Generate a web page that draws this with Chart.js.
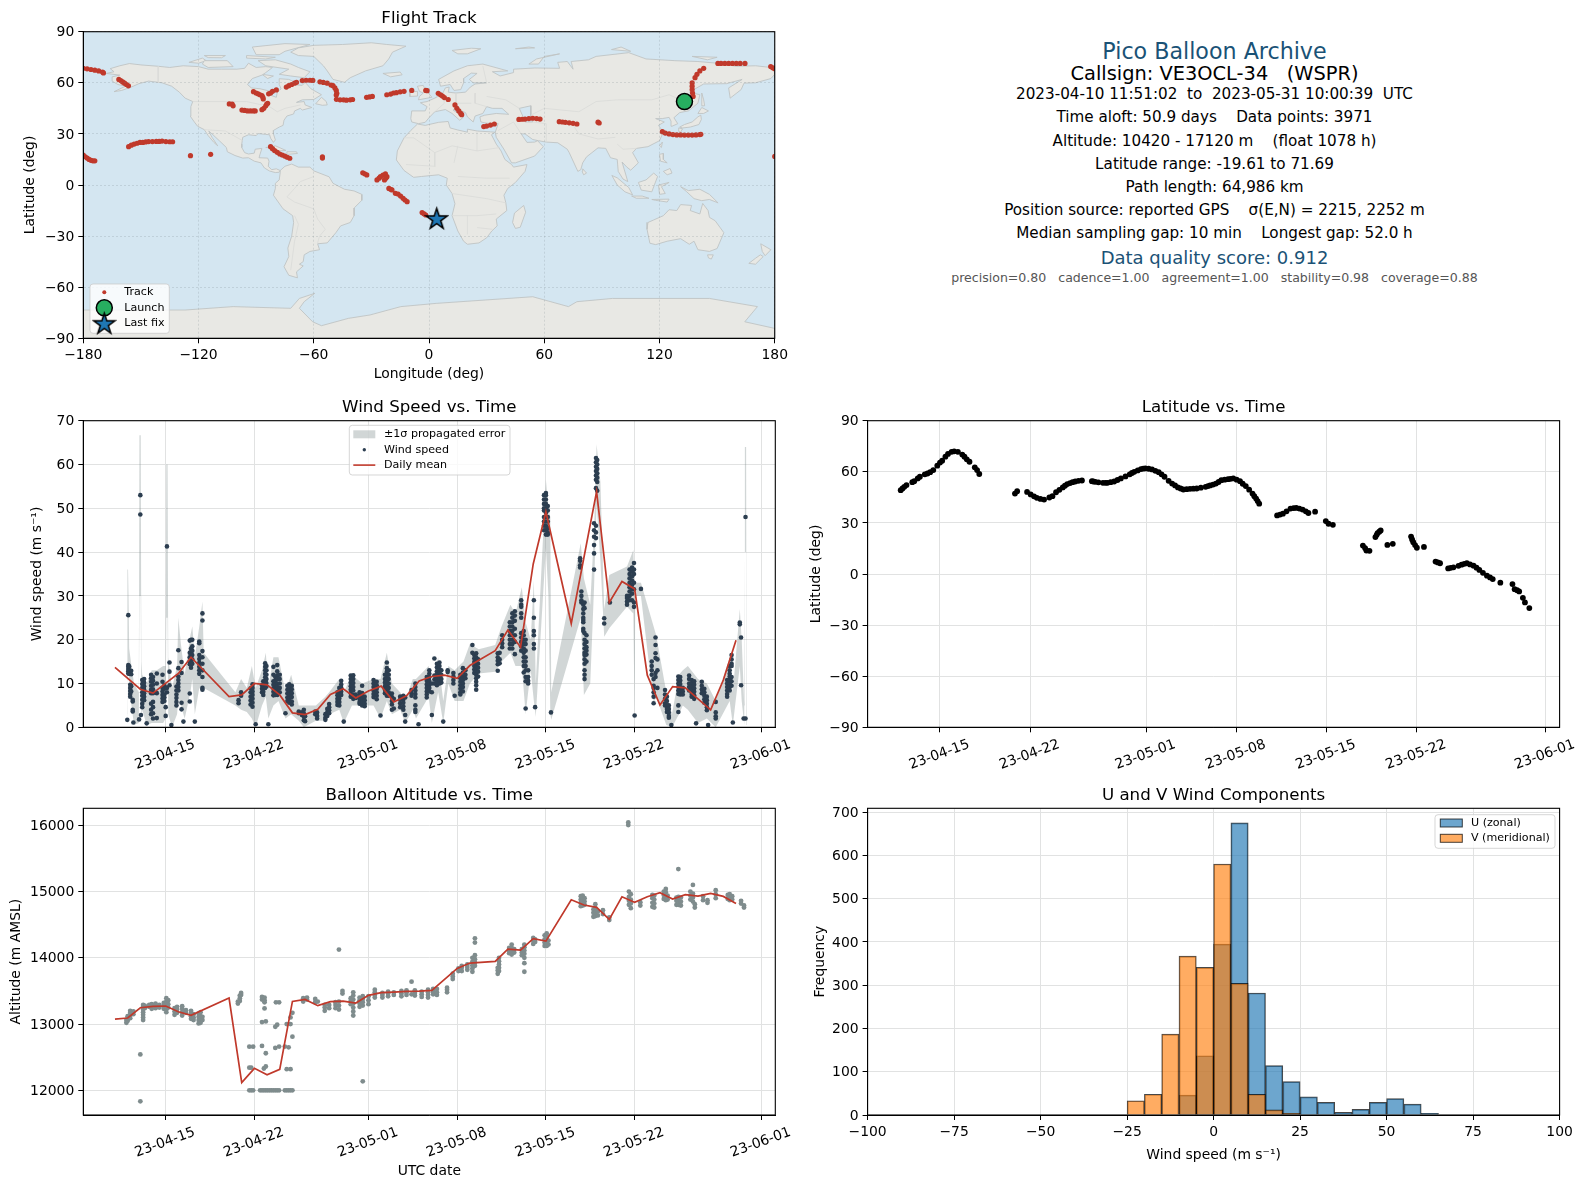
<!DOCTYPE html>
<html>
<head>
<meta charset="utf-8">
<title>Pico Balloon Archive</title>
<script src="https://cdn.jsdelivr.net/npm/chart.js@4"></script>
<style>
  html, body { margin: 0; padding: 0; background: #fff; }
  body { width: 1587px; height: 1189px; position: relative; overflow: hidden; font-family: "DejaVu Sans", sans-serif; }
  canvas { position: absolute; }
  .info { position: absolute; left: 1214.5px; transform: translate(-50%, -50%); white-space: pre; color: #000; }
</style>
</head>
<body>
<canvas id="mapChart" style="left:0;top:0" width="792" height="383"></canvas>
<canvas id="windChart" style="left:0;top:385px" width="792" height="393"></canvas>
<canvas id="latChart" style="left:792px;top:385px" width="795" height="393"></canvas>
<canvas id="altChart" style="left:0;top:778px" width="792" height="402"></canvas>
<canvas id="histChart" style="left:792px;top:778px" width="795" height="402"></canvas>
<div id="info"></div>

<script>
// ---- data ----
// days are counted from 1 April 2023 (so 23-05-01 = 31)
const timeTickDays = [15, 22, 31, 38, 45, 52, 62];
const timeTickLabels = ["23-04-15", "23-04-22", "23-05-01", "23-05-08", "23-05-15", "23-05-22", "23-06-01"];

// track fixes as [lon, lat]
const trackPoints = [
  [-180,68.5],[-178,68.2],[-176,67.8],[-174,67.4],[-172,67],[-170,66.3],[-169.5,65.8],
  [-161.5,62],[-160.5,61.3],[-159.5,60.5],[-158.5,59.8],[-157.5,59],[-156.5,58.2],
  [-180,17.6],[-179,16.6],[-178,15.8],[-177,15],[-176,14.5],[-175,14.2],[-174,14.2],
  [-156.4,22.5],[-155,23.4],[-153.5,24],[-152,24.5],[-150.5,25],[-149,25],[-147.5,25.3],[-146,25.5],[-144,25.5],[-142,25.6],[-140.5,25.6],[-139,25.8],[-137,25.5],[-135,25.4],[-133.5,25.4],
  [-124.2,17.2],[-113.7,18],
  [-104,47.6],[-102.5,47.5],[-102,46.5],
  [-97.4,44],[-96,43.8],[-94.5,43.5],[-93,43.5],[-91.5,43.5],[-90.5,43.5],
  [-87,44.2],[-86,45],[-85,46.5],[-84.5,47.5],[-84,48],
  [-91.4,54.8],[-90,54],[-89,53.5],[-88,53],[-87,52.5],[-86.5,51.5],[-86.3,50.5],
  [-83.5,53.5],[-82.5,54],[-81.5,55],[-79.5,55.8],
  [-74.3,57.5],[-73,58.3],[-71.5,59],[-70,59.8],[-69,60.3],
  [-66,61.3],[-64,61.5],[-62,61.5],[-60.5,61.4],
  [-56.8,60.6],[-55,60.2],[-53,59.8],[-51,58.7],[-50,58.3],[-49,57],[-48.3,55.5],[-48,53.8],[-48.3,52.8],[-48.2,50.3],
  [-46.3,50],[-44.5,50],[-43,49.8],[-41,50],[-39.8,50.2],
  [-32.5,51.5],[-31,51.7],[-29.5,52],
  [-22,53],[-20,53.4],[-18.5,54],[-17,54.2],[-15,54.7],[-13,55],[-9,55.5],[-1.7,55.5],[-1,55.4],
  [4.8,53.8],[6,53],[7,52.2],[8,51.3],[10,50.2],
  [13.5,47],[14.5,45],[15.5,43.5],[16.5,42],[17,41.3],
  [28.5,34.3],[30,34.6],[32,35.2],[34,35.8],
  [46.8,38.5],[48.5,38.6],[50,38.7],[52,39],[54,39.2],[56,39],[57.8,38.7],
  [67.8,37.2],[69.5,37],[71,36.8],[73,36.5],[75,36.2],[77,35.8],
  [88,36.9],[88.6,36.4],
  [121.5,31.3],[123,30.5],[125,30],[127,29.6],[129,29.4],[131,29.4],[133,29.3],[135,29.3],[137,29.3],[139,29.4],[141,29.6],[141.5,29.8],
  [137.5,52],[137.2,54],[137,56],[137,58],[137,60],[138.5,63],[139.5,65],[141,67],[143,68.5],
  [150.4,71.4],[152,71.4],[154,71.4],[156,71.4],[158,71.4],[160,71.4],[162,71.4],[164.5,71.4],
  [177.9,69.5],[179,68.8],[180,68.3],[180,16.8],
  [-34.5,7.2],[-33.5,6.6],[-32.4,5.9],
  [-27.1,3],[-26,4],[-25.3,4.9],[-24,5.8],[-22.7,6.5],[-21.9,4.9],[-22.5,4],[-23.2,3],
  [-20.9,-2],[-20,-2.5],[-19.3,-2.9],[-17.5,-4.9],[-16.1,-5.3],[-14.8,-6.5],[-13.5,-7.8],[-12.5,-8.8],[-11.4,-9.8],
  [-3.6,-16.2],[-2.6,-16.9],[-1.7,-17.6],
  [-82.5,22.5],[-81.5,21.3],[-80.4,20.2],[-79,19.2],[-77.7,18.2],[-76.4,17.6],[-75.1,17],[-73.8,16.3],[-72.5,15.7],
  [-55.5,16.6],[-55.5,15.8]
];
const launchPos = [133, 49];
const lastFixPos = [4, -19.6];

// coastlines as [lon, lat] outlines
const landShapes = [
  [[-168,65.5],[-164,66.5],[-166,68.3],[-161,70],[-156,71.3],[-150,70.5],[-141,69.7],[-135,69],[-128,70],[-120,69.5],[-115,68],[-108,68],[-100,68],[-96,68.5],[-94,71.5],[-90,69],[-85,69.5],[-81.5,69],[-85,66],[-87,64.5],[-92,62.5],[-94.5,59],[-92.5,57],[-88,56.5],[-82.5,55],[-82,52.5],[-79.5,51.5],[-79,54.5],[-77,56.5],[-78,59],[-78,62.4],[-73,62],[-70,60.5],[-69.5,58.8],[-66,58.5],[-64.5,60.3],[-61.5,56.5],[-56,53],[-60,50.2],[-66,50],[-69,48.5],[-65,49],[-64.5,47],[-61,45.5],[-66,44],[-67,45],[-70,43.5],[-70.5,41.7],[-74,40.5],[-75.5,38],[-76,35],[-78,34],[-81,32],[-81,30],[-80,26.5],[-81,25],[-82.5,27.5],[-83,29.5],[-85,29.7],[-89,30.2],[-90,29],[-94,29.5],[-97,28],[-97.5,24],[-97.5,22],[-96,19],[-94,18.2],[-91,18.7],[-90.5,21],[-87,21.5],[-88,18],[-88.5,16],[-84,15.8],[-83.3,14],[-83.7,11],[-82,9],[-79.5,9.5],[-77.5,8.5],[-78,7.5],[-80,7.3],[-83,8.2],[-85.7,10],[-87.5,13],[-91,14],[-94,16],[-97,15.8],[-101,17.3],[-105,19.5],[-105.5,22],[-109,25.8],[-112.5,29.5],[-114.7,31.7],[-113,28],[-110,23],[-112,25],[-115,29],[-117,32.5],[-120.5,34.5],[-122.5,37.5],[-124.3,40.4],[-124,46],[-123,49],[-127,51],[-130,54.5],[-134,58],[-139,60],[-146,61],[-151,59.5],[-154,58],[-160,55.5],[-164,54.8],[-158,58],[-162,59],[-165,61],[-165,63.5],[-161,64.5]],
  [[-72,78],[-68,76],[-60,75.5],[-55,70],[-53,67],[-50,62],[-44,60.3],[-41,63],[-33,67],[-24,70],[-21,74],[-19,78],[-12,81.5],[-22,82.5],[-30,83.5],[-45,82.5],[-60,82],[-68,80.5]],
  [[-80,73.5],[-72,71],[-68,69],[-62,66.5],[-65,63],[-72,64],[-78,65],[-73,68],[-85,70],[-89,73]],
  [[-117,73],[-105,73],[-102,69.5],[-115,69],[-118,71]],
  [[-90,76.5],[-78,76.5],[-75,78.5],[-62,82.5],[-75,83],[-92,81]],
  [[-125,72],[-118,74.5],[-116,73],[-120,71.5]],
  [[-95,76],[-80,75],[-85,74],[-95,74.5]],
  [[-117,76],[-106,76],[-108,74.7],[-115,74.8]],
  [[-87,65],[-81,64],[-84,62.5]],
  [[-59,47.7],[-55.5,46.8],[-53,47],[-53.5,49],[-56,51.5]],
  [[-85,22],[-80,23],[-74.5,20.3],[-78,20],[-82,22]],
  [[-74,19.5],[-69,19.5],[-68.5,18.5],[-74,18]],
  [[-78.3,18.4],[-76.3,18.2],[-77,17.8]],
  [[-77.5,8.5],[-75,11],[-71.5,12.3],[-68,10.5],[-62,10.5],[-60,8.3],[-52,4.8],[-50,1],[-44,-2.5],[-39,-3.5],[-35,-5.5],[-35,-9],[-39,-13.5],[-39,-18],[-41,-22],[-46,-24],[-48.5,-28],[-53,-34],[-58,-34.5],[-57,-38],[-62,-39],[-65,-41],[-65.5,-45],[-67.5,-46.5],[-65.5,-47.5],[-69,-51],[-68.5,-54.5],[-73,-53],[-75.5,-48],[-73,-42],[-73.5,-37],[-71.5,-30],[-70.5,-22],[-71,-18],[-76,-14],[-81,-6],[-80,-2],[-80,1],[-78,3],[-77.5,7]],
  [[-6,35.8],[-2,35],[5,36.8],[10,37.3],[11,33.5],[15,32.3],[20,31],[20,32.8],[25,31.7],[32,31.2],[34.3,31],[32.5,29.5],[35,24],[37.5,20],[39.5,15],[43,12],[44,10.5],[51,12],[50,8],[45,1.5],[41,-2],[39,-6],[40,-10.5],[40.5,-15],[35,-20],[35.5,-24],[32.7,-27],[30,-31],[26,-34],[20,-34.8],[18,-33],[15,-27],[12,-18],[13.5,-11],[12,-5],[9,0],[9.5,4],[5,6],[-4,5],[-8,4.5],[-13,8.5],[-17,14.7],[-16.5,20],[-13,27.7],[-9.5,32]],
  [[49.3,-12],[50.3,-16],[47.5,-24.8],[45,-25.5],[43.5,-22],[44.5,-16.5]],
  [[-9,37],[-9.5,39],[-9,43.5],[-2,43.5],[-1,46],[-4.5,48.3],[-1,49],[3,51],[7,53.5],[8.5,57],[10.5,57.5],[10,54.5],[14,54],[19,54.5],[21.5,57.5],[24,59.3],[30,60],[23,60],[21,62],[25,65.5],[22,65.7],[18,62.5],[18,60],[16.5,56],[13,55.5],[11,59],[6,58],[5,62],[13,67],[20,70],[28,71],[41,67],[33,66.5],[37,64],[44,66],[44,68],[55,68.7],[68,68.5],[67,72],[72,72.5],[75,68],[74,72.5],[83,73.5],[87,75.5],[104,77.7],[113,74],[128,73],[140,72.5],[150,71.5],[160,69.7],[170,70],[178,69],[180,68.5],[180,65],[178,62.5],[170,60],[164,59.8],[162.5,56],[156.8,51],[156,57],[161,60.5],[163,62],[155,59.5],[143,59.3],[135.5,54.5],[141,53],[140,48],[135,43.5],[130.5,42.5],[127.5,39.5],[129.5,36],[126.5,34.5],[126,37.5],[125,39.7],[121.5,39],[118,39],[122.5,37],[119.5,35],[122,31],[120,26],[114,22.5],[108,21.5],[106,19],[109,13],[105,8.7],[103,10.5],[100.5,13.5],[103.5,2],[101,3.5],[98.5,8],[98,15],[94.5,16],[92,21.5],[88,21.8],[82,16.5],[80,13],[79,9],[77.5,8],[73,19],[72,21],[67,24.8],[61,25.2],[57,26],[54,26.7],[50,30],[48,30],[51,25],[55,25.2],[56.5,26],[59.5,22.5],[55,17],[45,13],[43,13],[39,21],[35,28],[34.5,31],[36,36],[30,36.3],[27,37],[26.5,40],[29,41],[35,42],[41.5,41.5],[38,45],[33,45],[30,46],[28,42],[24,40.5],[23,37],[20,40],[19,42.5],[14,45],[12.5,44],[18,40],[16,38],[12,42],[8.5,44.3],[3,43],[0,39.5],[-2,36.8],[-5.5,36]],
  [[-5.5,50],[1.5,51.5],[0,53.5],[-2,56],[-3,58.5],[-6,58],[-5,55],[-3,54],[-5,52]],
  [[-10,52],[-6,52.2],[-6,55],[-10,54.5]],
  [[-24,65.5],[-15,66.3],[-14,64.7],[-20,63.5]],
  [[12,79],[22,80.3],[27,80],[20,77],[15,77]],
  [[45,80],[52,81],[55,80.5]],
  [[52,71],[56,74],[68,77],[60,75.5],[57,71]],
  [[95,79.5],[105,78.5],[100,81]],
  [[137,75.5],[150,75],[145,73.5]],
  [[130.5,34],[133,35.5],[137,37],[140,40],[141.5,41],[141.8,38.5],[140.5,35.5],[136,34],[132,33.5]],
  [[130,33.5],[132,33],[131,31],[130,31.5]],
  [[140,42],[142,45.5],[145.5,43.5],[143,42]],
  [[142,54],[143,50],[143.5,46.5],[142,46.5],[142,50]],
  [[120,23],[121.5,25.2],[121,22]],
  [[80,9.5],[82,7],[80.5,6],[79.7,8]],
  [[120,18],[122,18.5],[122,15],[124,13],[120.5,14]],
  [[122,8],[125.5,9.7],[126.5,7],[124,6]],
  [[95.2,5.6],[98,4.2],[104,-1.5],[106,-5.8],[102,-4],[98,0]],
  [[105.5,-6.5],[111,-6.5],[114.5,-7.8],[108,-7.8]],
  [[109,1.5],[113,3],[117,7],[119,5],[117.5,0.5],[116,-4],[110.5,-3]],
  [[119.5,0],[125,1.5],[121,-1],[123,-5],[120,-5.5]],
  [[131,-1],[135,-3.3],[141,-2.5],[146,-5.5],[150.5,-10.5],[146,-8.5],[142,-9.2],[138,-8],[134,-3.8]],
  [[116,-8.5],[125,-8.3],[124,-10],[118,-9]],
  [[114,-22],[113.5,-26],[115,-34.2],[118,-35],[124,-33],[131,-31.5],[135.5,-34.8],[138,-33],[140,-38],[146,-39],[150,-37.3],[153.5,-28],[149,-21],[146,-19],[145.3,-15],[142.5,-10.8],[141,-17],[136,-15],[136.7,-12],[131,-11.5],[129,-15],[125,-14.5],[122,-18],[117,-20.5]],
  [[145,-41],[148,-41],[147,-43.5],[145.5,-42.8]],
  [[172.7,-34.5],[178,-38],[175,-41.5],[173.5,-39]],
  [[172.5,-41],[174,-42],[170,-46.5],[166.5,-46],[170,-43]],
  [[-180,-90],[-180,-73.4],[-127,-73.4],[-102,-71.4],[-72,-72.4],[-67.5,-66.6],[-59.5,-63.6],[-65,-68.5],[-67.5,-72.4],[-60.6,-80.3],[-56,-82.6],[-42,-78.3],[-30.7,-76.3],[-14.7,-71.4],[3.7,-69.5],[54,-65.6],[72.6,-71.4],[77,-68.5],[95.5,-66.6],[146,-66.6],[171,-71.4],[164.4,-80.3],[180,-84.2],[180,-90]]
];
const lakeShapes = [
  [[47,45],[53,46.5],[53,40],[54,37],[50,37],[49,40]]
];
const borderLines = [
  [[-141,69.7],[-141,60]], [[-123,49],[-95,49],[-83,46],[-79,43],[-75,45],[-67,47]], [[-117,32.5],[-106,31.7],[-97,26]],
  [[-70,-18],[-68,-23],[-70,-33],[-72,-50]], [[-58,-34],[-57,-30],[-54,-26],[-58,-20],[-60,-14],[-70,-10],[-74,-7],[-70,-2],[-67,2],[-60,5]],
  [[-13,27.7],[-8,27.7],[3,19],[12,23],[25,20],[25,31.7]], [[25,20],[37,22]], [[3,19],[3,11],[-12,12]], [[13,13],[15,23]], [[15,5],[30,4],[42,4]], [[12,-5],[30,-8],[40,-10.5]], [[12,-18],[25,-18],[35,-17]], [[20,-29],[20,-18]], [[33,-26],[25,-25]],
  [[24,54],[24,48],[30,46]], [[14,54],[14,48],[22,48]], [[3,43],[8,48],[7,53.5]], [[30,60],[28,70]], [[30,52],[40,50],[47,45]],
  [[53,41],[60,45],[78,43],[87,49],[98,50],[116,50],[125,53],[135,48]], [[61,25],[61,36],[54,37]], [[74,37],[78,30],[88,27],[97,28]], [[98,24],[101,21],[108,21.5]], [[44,37],[48,30]], [[36,32],[44,37]]
];

const windDailyDays = [11,13,14,16,17,20,21,22,23,24,25,26,27,28,29,30,31,32,33,34,35,36,37,38,39,41,42,43,44,45,47,49,50,51,52,53,54,55,56,57,58,59,60];
const windDailyMean = [13.7,8.7,7.8,12.3,16,7,7.4,10,9.7,7.4,3.3,2.9,4.1,7.5,8.8,6.7,8.3,9.4,5.8,7.2,10.6,11.6,11.9,11.2,14.1,17.5,22.2,18.3,37.3,49.2,23.7,53.8,28.5,33.3,31.6,11.9,5.1,9.3,9,6.5,4,10.8,19.9];

const bandDays = [11.95,11.98,12.03,12.07,12.12,12.3,12.5,12.88,12.93,13.03,13.08,13.15,13.5,13.9,14.3,14.8,15,15.05,15.15,15.2,15.5,15.9,
  16,16.2,16.5,16.95,17.1,17.3,17.65,17.9,18,20.5,20.95,21.4,21.8,22.1,22.6,22.9,23.1,23.5,23.9,24.45,24.9,25.5,25.9,26.85,27.6,27.9,28.7,29.05,29.7,30.5,
  31.4,31.95,32.45,32.85,33.5,33.9,34.5,34.75,35.75,36,36.5,36.9,37.3,37.8,38.5,39,39.7,41,41.5,42.2,42.6,43.1,43.4,43.8,44.05,44.2,45,45.2,45.35,45.42,
  47.75,48,48.5,48.8,49,49.3,49.6,50,51.4,51.9,52,52.05,52.5,53.5,53.7,54.5,54.95,55.5,55.8,56.2,57,57.7,58.4,59.5,59.75,60.3,60.45,60.65,60.7,60.8,60.85];
const bandLow = [0.5,10,14,14,10,5,0.5,1,30,30,1,4,0.5,1,1,1,2,25,25,3,0,3,
  7,5,2,8,11,3,9,8,9,5,4,3.5,2,0,5,7,2,5,6,2,3,1.5,0,1.5,1.5,3,4,1,5,5,
  5,2,6,3,4,1,4,2,7,1,8,1,10,6,6,10,12.3,12.7,15,17,14,14,3,13,6,2.4,41,30,3,1.7,
  25,7.4,10,32,51,38,20.7,22.6,27.5,26,1.7,30,30,5.5,7,0.5,0,3,5,4,1,2,0,6,0.5,14,6,0.5,40,40,0.5];
const bandHigh = [3,36,36,30,18,14,10,8,66.7,66.7,15,12,10,13,13,14,14,60,60,16,9,14,
  25,19,12,21,23,16,23,28.7,17,8,11,9,14,9,13,17,9,16,16,8,12,5,5,5,7,8,11,8,12,10,
  11,11,17,10,8,6,11,11,14,10,16,6,14,13,15,19,17.8,18.8,23,28,26,32,24,20,33.6,10,56.5,50,48,8,
  42,34,28,45,64.6,56,27,34.8,36.7,40.5,30,33,33,23,21,8,3,12,13,14,11,10,6,16,8,27,20,5,64,64,3];

// one row per time: day, then the speeds seen at that time
const windRows = [
  [11.97,1.7],[12.05,25.6,14.2,13.8,13.3,12.8,12.3],[12.12,13.9,13,12.2],[12.2,9.7,9,8.3,7.6,7],[12.28,12.9,12.1,9.4,8.2],[12.4,6.3,5.9,4,3.6],[12.45,1.1],[12.9,1.8],
  [13,53,48.6],[13.05,2.8],[13.15,10.8,9.9,9,8,7.2,6.3,5.4,4.6],[13.3,11,10.2,9.4,8.6,7.8,7,6.2],[13.5,0.9],[13.85,12,11.2,10.4,9.5,8.6,7.8,5.4,4,3],[14,11.5,10.6,9.7,8.7,7.8,5.8,4.6,3.2,2],[14.3,12.3,10,7.8,2.1],[14.75,12,10.4,9,8.2,7.4,6.6,5.8],[14.9,9.6,8.8,7.5,6.8,6],[15,2.6,4.6],
  [15.1,41.3,9,8],[15.3,14.8,12.7,9.6],[15.45,0.5],[15.85,9.3,8.4,7.5,6.7,5.8,5],[16,17.6,13.5,11.6,10.8,10,9.2,8.4],[16.25,14.9,12.4,5.6,4.1],[16.4,1.3],[16.9,19.8,17,16,15,14.4,7.7,5.9],[17,20,18,17.2,16.5,15.7,15,14.3,13.6],[17.1,20,18.5,17.5,16.5,15.5,14.5],[17.3,1.3],[17.65,19.6,19.2,16.5,15.6,14.7,13.8,13,12.2],[17.9,26,24.4,17.4,16,14.5,13,11.5,9,8.6],
  [20.75,6.2,5.5],[20.95,8,7.2],[21.7,8.9,8,7,6.1,5.2],[21.85,9.8,9,8.2,7.4,6.5,5.6,4.7],[22.1,0.7],[22.6,9.6,8.8,8],[22.7,10.5,9.7,8.9,8.1,7.4],[22.85,14.6,13.8,13,12.2,11.4,10.6,9.8,9],[22.95,14,13,12,11,10.1,9.3],[23.1,0.7],
  [23.5,13.8,12,10.5,9.7,8.9,8.1,7.3],[23.65,11.5,10.6,9.8,9,8.2,7.4],[23.8,14.2,12.8,11.9,11,10,9.2,8.3,7.4],[24,12,11,10,9,8],[24.45,3.2],[24.6,9.5,8.6,7.7,6.8,6],[24.75,9.8,9,8.2,7.4,6.5,5.6],[24.95,9.5,8.7,7.8,6.9,5.9,5.2],
  [25.5,3.6,3.2],[25.75,3.4,2.8],[25.9,4,3.2,2.4,1.6],[26,2.5,1.4],[26.8,3.6,3],[26.95,3.4,2.6,2],[27.6,3,2.2,1.7],[27.75,4.2,3.4,2.6],[27.9,5.3,4.6,3.9,3.2],
  [28.55,8,7.3,6.5,5.8,5.1],[28.7,9,8.2,7.4,6.6,5.8,5],[28.85,10.6,9.8,9,8.2,7.4],[29.05,1.3],[29.6,11.8,11,10.2,9.4,8.6,7.8,7],[29.8,11.9,11,10.1,9.2,8.4,7.4,6.5],[30,7.5,6.7],[30.3,8,7.2,6.5,5.8,5.4],[30.5,9.5,7.8,7,6.3,5.6,5],[30.7,7,6.2,5.4,4.8],
  [31.4,10.8,10,9.2,8.4,7.6,6.9],[31.65,10.4,9.6,8.8,8,7.2,6.4],[31.95,2.7],[32.3,12,11,10.2,9.4,8.6,7.8],[32.45,14.8,13.5,12.7,12,11.2,10.4,9.6,8.8,8,7.2],[32.6,13,12,11,10,9,8,7.2],[32.85,7.7,6.9,6,5.2,4],[33,4.3,6.5],[33.5,7,6.3,5.5,4.6],[33.75,7.2,6.3,5.6,4.8,4],[33.9,2.8,1.3,6.8],
  [34.4,8.5,7.8,7.2],[34.7,10,9.2,8.4,7.6,6.8,5,4,3.5],[34.95,0.7],[35.6,11.5,10.6,9.8,9,8.2,7.5,6.8],[35.8,13,12.2,11.4,10.6,9.8,9,8.2],[36,10,8,2.8],
  [36.2,15.7,11.8,10.9,10],[36.4,14.5,13.7,12.8,12,11.2,10.4,9.6],[36.6,14.8,14,13.2,12.4,11.6,10.8,10],[36.75,13,12,11,10.2],[36.9,1.3],[37.25,13,12.6],[37.7,12.4,11.6,10.8,10],[37.8,7.2],
  [38.25,12,11.2,10.4,9.6,8.8,8,7.5],[38.45,13.5,12.5,11.6,10.8,10,9.2,8.2],[38.65,13,12,11.2],[39.2,18.8,17],[39.35,16.5,15.7,14.9,14,13.2,12.4],[39.5,16.9,16,15.2,14.4,13.5,12.8,12,11.2,10.4,9.6,8.6],[39.65,15.5,14.5,13.6,12.7,11.6],
  [41.2,16.9,16,15.2,14.4,12.9],[41.35,17,15.5,14.6],[41.55,21,20,19.2,18.3],[42.15,24,23,22,21,20,19,18],[42.35,26,25,24,23,22,21,20,19,18],[42.55,26.5,25.5,24.3,22.5,21,19.5,16.7],
  [43.05,29,28,27.5,26,25,21.5,20.5,19.5,18.5,17.5],[43.25,22,21,20,19,18,17,16,15,14,12.5],[43.4,20,19,17.5,16,15,14,13,11.5,10.5,4.3],[43.6,13,11.5,10.6,10],[44.05,29,25,22,21,19,18],[44.15,4.6],
  [44.85,53,52,51,50,49.5,48,47,46,45],[45,53.5,53,52,51,50,49,48,47,46,45,44],[45.15,50.5,49.5,48,47,45.5,44.5,44],[45.4,3.4],
  [47.7,38.6,38,37,36.5],[47.8,31,30,29,28.5],[47.95,28,27,26,25,24.5,24,22.5,22],[48.05,28.5,27.2,21.5,20,19,18,17,16.5,15.5,14.5,13,12,11],[48.2,21,19.5,18.3,17.5,16.6,15],
  [48.8,46.6,45,43.5,41.6,39.7,36],[48.95,61.5,60.5,59.5,58.5,57.5,56.5,54.6,46,44.5,43.2],[49.05,61,60,59,58,57,56,54],[49.6,24.9,23.7],[50.05,28.5],
  [51.4,30,29.5,28.7,28],[51.6,36,35,34,33,32,31,30,29],[51.8,36.5,35.5,34.5,33.5,32.5,31.5,30.5,29],[51.95,37.5,36,35,33,31.5,28.5,27.5],[52,2.7],[52.5,31.6],
  [53.35,15,14,13,12],[53.5,11,9.5,9,8,7,5.5],[53.65,20.5,18.8,16.9,15.8,12.4,11.5],[53.8,15.5,13,9],[54.4,8.5,7.5,6.5,5.5,5],[54.55,7,6,5,4.2,3.5],[54.7,5,4.2,3.4,2.6,2.2],[54.9,0.5],
  [55.45,11.6,10.8,10,9.2,8.4,7.6,5,3.5],[55.6,11.5,10.7,9.9,9.1,8.3,7.5],[55.8,9,8.2,7.5],[56.3,11.8,11,10,9.2,8.4],[56.5,10.8,10,9.2,8.4,7.6,7],[56.7,10.5,9.7,8.9,8.1,7.3,6.5],[56.85,0.9],
  [57.3,10.4,9.5,8.7,7.8],[57.5,8.8,8,7.2,6.4,5.6],[57.7,7,6.2,5.4,4.6,3.9],[57.8,0.5],[58.4,5.8,3.4,2.5,2],[59.3,10.8,10,9.2,8.4,7.6,7],[59.5,14,13,12.2,11.6,10.8,10,9.2,8.4],[59.65,16.5,15.5,14.5,14,11.5,10.5,9.5],[59.75,1.1],
  [60.3,23.9,23.5],[60.4,20.5,9.6],[60.6,2],[60.75,48,2]
];

const latDays = [11.95,12.09,12.23,12.4,12.85,13,13.27,13.44,13.82,14.03,14.24,14.48,14.79,15,15.17,15.42,15.62,15.9,16.1,16.39,16.73,16.9,17.08,17.29,17.7,17.88,18.05,
  20.82,20.99,21.76,22.04,22.3,22.52,22.8,23.08,23.49,23.73,24.01,24.53,24.88,25.29,25.75,26.02,26.79,27.06,27.65,28,28.52,29.04,29.73,30.08,30.6,30.94,31.46,31.98,32.43,32.75,33.02,33.47,33.89,34.41,34.93,35.62,35.97,36.42,36.84,37.36,37.77,38.29,38.74,39.26,39.54,39.78,
  41.17,41.62,42.21,42.66,43.15,43.6,44.12,44.95,45.16,45.5,47.83,48.1,48.34,48.8,48.97,49.21,49.73,50.15,51.57,51.74,52.02,52.57,53.47,53.82,54.45,54.86,55.49,55.9,56.42,56.87,57.46,57.91,58.5,59.44,59.61,59.96,60.41,60.75,
  24.27,24.7,25.1,25.5,26.9,27.3,27.85,28.25,28.78,29.4,29.9,30.35,30.78,31.2,31.72,32.2,33.25,33.68,34.15,34.67,35.25,35.8,36.2,36.63,37.1,37.55,38.03,38.5,39,39.4,39.66,41.4,41.9,42.45,42.9,43.4,48.9,49.1,51.65,51.88,53.65,54.65,55.25,55.7,56.15,56.65,57.15,57.7,60.25,59.8,48];
const latValues = [49.2,50.2,51.2,52.2,53.9,54.5,56.1,57.1,58.5,59,59.8,61,63.6,65.4,66.5,68.9,70.5,71.7,72,71.7,70.1,68.9,67.3,65.9,62.6,61,58.7,
  47.2,48.6,48.2,46.7,45.6,44.7,44.1,43.7,44.9,45.7,48,50.8,52.8,53.9,54.7,54.9,54.5,54.1,53.5,53.5,54.3,56.1,58.5,60,61.6,62,61.4,59.8,57.1,54.7,53.1,50.8,49.6,50,50.2,51.2,52,53.1,55.1,55.7,56.1,54.5,51.6,47.2,44.3,41.3,
  34.4,35.4,38.4,38.8,37.8,35.8,36.6,31.1,29.5,28.9,16.7,13.8,13.6,21.7,24,25.6,17.1,17.7,22,18.7,15.4,15.9,7.3,6.3,3.3,3.9,5.5,6.3,4.9,2.4,-1,-3,-5.1,-5.9,-8.9,-10.2,-16.7,-20,
  49.4,51.8,53.4,54.3,54.3,53.8,53.5,53.9,55.2,57.3,59.3,60.8,61.9,61.8,60.6,58.5,52,50.2,49.8,50.1,50.7,51.6,52.5,54,55.4,55.9,55.4,53,49.5,45.7,42.8,34.9,36.8,38.7,38.4,36.8,23,24.8,20.3,17,6.8,3.6,4.8,6,5.6,3.7,0.7,-2,-14,-9.5,15.2];

const altDailyDays = [11,12,13,14,15,16,17,20,21,22,23,24,25,26,27,28,29,30,31,32,33,34,35,36,38,39,41,42,43,44,45,47,48,49,50,51,52,53,54,55,56,57,58,59,60];
const altDailyMean = [13076,13092,13247,13268,13273,13187,13132,13393,12116,12332,12236,12317,13343,13373,13278,13338,13348,13318,13434,13474,13484,13494,13499,13509,13841,13921,13947,14133,14118,14289,14253,14877,14797,14762,14581,14922,14837,14922,14983,14887,14953,14932,14973,14927,14822];

// one row per time: day, then the altitudes seen at that time
const altRows = [
  [11.9,13020,13060],[12,13050,13090,13120],[12.2,13090,13130,13170,13200],[12.45,13150,13190],[13,12543,11834],[13.22,13060,13100,13140,13180,13220,13260,13290],[13.35,13240,13280],
  [13.7,13260,13290],[13.9,13230,13270,13300],[14.2,13240,13280,13310],[14.5,13250,13290],[14.85,13230,13280,13320],[15.05,13180,13220,13260,13300,13340,13390],[15.2,13250,13300,13360],[15.7,13140,13190,13240],[15.9,13170,13220,13260],[16.3,13130,13180,13230,13270],[16.6,13170,13210],
  [17,13080,13120,13160,13200],[17.2,13060,13100,13150],[17.6,13010,13060,13110,13160],[17.75,13020,13070,13120,13180],[17.9,13060,13110],
  [20.7,13310,13340],[20.85,13350,13390,13430],[20.95,13440,13470],[22.6,13370,13410],[22.8,13360,13400,13328,13237],[23.7,13328],[23.95,13328],
  [21.6,12000,12342,12659],[21.75,12000,12342],[21.9,12000,12659],[22.45,12000],[22.6,12000,13030,12670],[22.75,12000,12330],[22.9,12000,12360,13040,12560],[23.05,12000],[23.2,12000],[23.35,12000],[23.5,12000],[23.65,12000,12960,12640],[23.8,12000,12990],[23.95,12000,12660],
  [24.4,12000,12660],[24.55,12000,12320,13000],[24.7,12000,12650],[24.85,12000,12320,13000,13100],[25,12000,12810,13170],
  [25.85,13340,13390],[26.15,13370,13400],[26.8,13330,13380],[27,13340],[27.55,13200,13250,13290],[27.9,13240,13290],[28.4,13240,13290,13330],[28.67,14125,13220,13280,13340],[28.95,13460,13500],
  [29.6,13300,13350,13390],[29.8,13130,13190,13250,13310,13370,13430,13480],[30.3,13260,13310,13360,13400],[30.55,12136,13280,13330,13380,13420],[31,13300,13360,13420],[31.5,13400,13440,13480,13520],
  [32.1,13400,13440,13470],[32.55,13420,13460,13490],[33,13440,13480],[33.6,13420,13460,13500],[34,13440,13480,13510],[34.4,13640,13450],[34.66,13430,13470,13510],[35.2,13410,13450,13490],[35.7,13400,13440,13480,13520],[36.1,13450,13490,13530],[36.4,13440,13480,13530],[37.2,13480,13520,13550],
  [37.65,13680,13720,13760],[38.1,13800,13840],[38.36,13800,13850,13880],[38.8,13820,13860,13900],[39.2,13790,13840,13890,13940,14000],[39.4,14294,14230,13880,13930,13980,14040],
  [41.2,13760,13810,13850],[41.3,13800,13850,13900,13950,14000],[42.1,14070,14110,14150],[42.3,14050,14100,14150,14200],[42.5,14080,14130],[43.1,14040,14080,14130],[43.3,14000,14060,14110,14160,14200,13920,13790],[44,14210,14260,14300],[44.15,14240,14280],
  [44.9,14180,14230,14280,14340],[45.06,14180,14230,14280,14330,14370],[45.2,14200,14260],
  [47.75,14780,14830,14880,14930],[47.9,14790,14840,14890,14940],[48.05,14800,14850,14900],[48.75,14620,14680,14730],[48.9,14630,14690,14750,14810],[49.1,14640,14700],[49.5,14660,14720],[50,14570,14610],
  [51.5,16044,16004],[51.55,14800,14860,14920,15000],[51.7,14750,14820,14880,14960],[52.45,14790,14840],[53.4,14770,14830,14900,14950],[53.55,14760,14820,14880,14940],[54.3,14890,14950,15000],[54.46,14870,14930,14990,15040],[54.6,14880,14940],
  [55.3,14800,14860,14910],[55.45,15340,14800,14860,14920],[55.65,14790,14850,14910],[56.4,14880,14940,15000],[56.6,15100,14850,14910,14970],[56.75,14760,14810],[57.4,14870,14930],[57.75,14830,14870],[58.4,15020,14900,14960],[59.35,14890,14950],[59.5,14870,14920,14960],[59.7,14880,14930],[60.4,14820,14860],[60.63,14760,14790]
];

const altTicks = [12000, 13000, 14000, 15000, 16000];
const histBinCenters = [-22.5,-17.5,-12.5,-7.5,-2.5,2.5,7.5,12.5,17.5,22.5,27.5,32.5,37.5,42.5,47.5,52.5,57.5,62.5];
const uCounts = [0,0,0,46,137,395,675,282,114,77,42,29,6,13,29,38,25,4];
const vCounts = [33,48,187,367,341,580,304,48,12,4,0,0,0,0,0,0,0,0];

const infoLines = [
  ["Pico Balloon Archive", 50.6, 22.2, "#1a5276"],
  ["Callsign: VE3OCL-34   (WSPR)", 73, 19.4, "#000"],
  ["2023-04-10 11:51:02  to  2023-05-31 10:00:39  UTC", 94, 15.2, "#000"],
  ["Time aloft: 50.9 days    Data points: 3971", 117.4, 15.2, "#000"],
  ["Altitude: 10420 - 17120 m    (float 1078 h)", 140.7, 15.2, "#000"],
  ["Latitude range: -19.61 to 71.69", 163.5, 15.2, "#000"],
  ["Path length: 64,986 km", 186.5, 15.2, "#000"],
  ["Position source: reported GPS    σ(E,N) = 2215, 2252 m", 209.5, 15.2, "#000"],
  ["Median sampling gap: 10 min    Longest gap: 52.0 h", 232.8, 15.2, "#000"],
  ["Data quality score: 0.912", 257, 18, "#1a5276"],
  ["precision=0.80   cadence=1.00   agreement=1.00   stability=0.98   coverage=0.88", 277.3, 12.55, "#555"]
];

// ---- styling and helpers ----
const FONT = "'DejaVu Sans', sans-serif";
const GRID = "#e1e2e2";
const RED = "#c0392b";
const NAVY = "#2c3e50";
const SLATE = "#7f8c8d";
const BAND = "rgba(127,140,141,0.36)";

Chart.defaults.font.family = FONT;
Chart.defaults.font.size = 13.9;
Chart.defaults.color = "#000";
Chart.defaults.animation = false;

infoLines.forEach(([text, y, size, color]) => {
  const d = document.createElement("div");
  d.className = "info";
  d.textContent = text;
  d.style.top = y + "px";
  d.style.fontSize = size + "px";
  d.style.color = color;
  document.getElementById("info").appendChild(d);
});

function makeStar(size, fill) {
  const c = document.createElement("canvas");
  c.width = c.height = size;
  const g = c.getContext("2d");
  const r = size / 2 - 1.5;
  g.beginPath();
  for (let i = 0; i < 10; i++) {
    const a = -Math.PI / 2 + i * Math.PI / 5;
    const q = i % 2 ? r * 0.382 : r;
    g.lineTo(size / 2 + q * Math.cos(a), size / 2 + 1 + q * Math.sin(a));
  }
  g.closePath();
  g.fillStyle = fill;
  g.fill();
  g.lineWidth = 1.5;
  g.strokeStyle = "#000";
  g.stroke();
  return c;
}
const starImg = makeStar(25, "#1f77b4");

const framePlugin = {
  id: "frame",
  afterDraw(chart) {
    const a = chart.chartArea, ctx = chart.ctx;
    ctx.save();
    ctx.strokeStyle = "#000";
    ctx.lineWidth = 1.1;
    ctx.strokeRect(a.left, a.top, a.right - a.left, a.bottom - a.top);
    ctx.restore();
  }
};

const oceanPlugin = {
  id: "ocean",
  beforeDraw(chart) {
    const a = chart.chartArea, ctx = chart.ctx;
    ctx.save();
    ctx.fillStyle = "#d4e6f1";
    ctx.fillRect(a.left, a.top, a.right - a.left, a.bottom - a.top);
    ctx.restore();
  }
};

// matplotlib style legend box placed inside the axes
function boxLegend(box, items) {
  return {
    id: "boxLegend",
    afterDraw(chart) {
      const ctx = chart.ctx;
      ctx.save();
      ctx.beginPath();
      ctx.roundRect(box.x, box.y, box.w, box.h, 3);
      ctx.fillStyle = "rgba(255,255,255,0.8)";
      ctx.fill();
      ctx.strokeStyle = "rgba(204,204,204,0.8)";
      ctx.lineWidth = 1;
      ctx.stroke();
      items.forEach((it, i) => {
        const cy = box.y + box.first + i * box.step;
        const cx = box.x + box.key;
        ctx.save();
        if (it.kind === "patch") {
          ctx.fillStyle = it.fill;
          ctx.fillRect(cx - 11, cy - 4, 22, 8);
          if (it.stroke) {
            ctx.strokeStyle = it.stroke;
            ctx.lineWidth = 1;
            ctx.strokeRect(cx - 11, cy - 4, 22, 8);
          }
        } else if (it.kind === "line") {
          ctx.strokeStyle = it.stroke;
          ctx.lineWidth = 1.6;
          ctx.beginPath();
          ctx.moveTo(cx - 11, cy);
          ctx.lineTo(cx + 11, cy);
          ctx.stroke();
        } else if (it.kind === "image") {
          ctx.drawImage(it.image, cx - it.image.width / 2, cy - it.image.height / 2);
        } else {
          ctx.beginPath();
          ctx.arc(cx, cy, it.r, 0, Math.PI * 2);
          ctx.fillStyle = it.fill;
          ctx.fill();
          if (it.stroke) {
            ctx.strokeStyle = it.stroke;
            ctx.lineWidth = 1.5;
            ctx.stroke();
          }
        }
        ctx.restore();
        ctx.fillStyle = "#000";
        ctx.font = "11.1px " + FONT;
        ctx.textBaseline = "middle";
        ctx.textAlign = "left";
        ctx.fillText(it.label, box.x + box.text, cy);
      });
      ctx.restore();
    }
  };
}

const minusSign = v => String(v).replace("-", "\u2212");

function fixedTicks(values) {
  return scale => { scale.ticks = values.map(v => ({ value: v })); };
}

function valueAxis(opts) {
  return {
    type: "linear",
    min: opts.min,
    max: opts.max,
    afterFit: s => { s.width = opts.width; },
    afterBuildTicks: fixedTicks(opts.ticks),
    grid: Object.assign({ color: GRID, tickColor: "#000", tickLength: 5, lineWidth: 1 }, opts.grid || {}),
    border: Object.assign({ color: "#000", width: 1 }, opts.border || {}),
    ticks: { padding: 4, autoSkip: false, callback: minusSign, color: "#000", labelOffset: 1 },
    title: { display: true, text: opts.title, font: { size: 13.9 }, padding: { top: opts.titlePad, bottom: 0 } }
  };
}

function bottomAxis(opts) {
  return {
    type: "linear",
    min: opts.min,
    max: opts.max,
    offset: false,
    afterFit: s => { s.height = opts.height; },
    afterBuildTicks: fixedTicks(opts.ticks),
    grid: Object.assign({ color: GRID, tickColor: "#000", tickLength: 5, lineWidth: 1, offset: false }, opts.grid || {}),
    border: Object.assign({ color: "#000", width: 1 }, opts.border || {}),
    ticks: { padding: 4, autoSkip: false, maxRotation: 0, callback: minusSign, color: "#000" },
    title: { display: !!opts.title, text: opts.title || "", font: { size: 13.9 }, padding: { top: 0, bottom: opts.titlePad || 0 } }
  };
}

function timeAxis(opts) {
  const ax = bottomAxis(Object.assign({ ticks: timeTickDays }, opts));
  ax.ticks = {
    padding: 4, autoSkip: false, minRotation: 20, maxRotation: 20, labelOffset: 29, color: "#000",
    callback: (v, i) => timeTickLabels[i]
  };
  return ax;
}

function titleOpts(text, top, bottom) {
  return { display: true, fullSize: false, text, font: { size: 16.67, weight: "normal" }, color: "#000", padding: { top, bottom } };
}

function baseOptions(title, scales, right) {
  return {
    responsive: false,
    devicePixelRatio: 1,
    animation: false,
    events: [],
    layout: { padding: { right, left: 0, top: 0, bottom: 0 } },
    plugins: { title, legend: { display: false }, tooltip: { enabled: false } },
    scales
  };
}

const dots = (data, color, radius) => ({
  type: "scatter", data, pointRadius: radius, pointBackgroundColor: color, pointBorderWidth: 0, showLine: false
});
const expand = rows => rows.flatMap(r => r.slice(1).map(v => ({ x: r[0], y: v })));
const zip = (xs, ys) => xs.map((x, i) => ({ x, y: ys[i] }));
const toPoints = path => path.map(p => ({ x: p[0], y: p[1] }));

function shape(path, fill, stroke) {
  return {
    type: "scatter", data: toPoints(path.concat([path[0]])), showLine: true, fill: "shape",
    backgroundColor: fill, borderColor: stroke, borderWidth: 0.9, pointRadius: 0, tension: 0
  };
}

const meanLine = (days, vals) => ({
  type: "scatter", data: zip(days, vals), showLine: true, borderColor: RED, borderWidth: 1.7, pointRadius: 0, tension: 0
});

// ---- flight track (first dataset is drawn on top) ----
new Chart(document.getElementById("mapChart"), {
  type: "scatter",
  data: {
    datasets: [
      { type: "scatter", data: [{ x: lastFixPos[0], y: lastFixPos[1] }], pointStyle: starImg, pointRadius: 12 },
      { type: "scatter", data: [{ x: launchPos[0], y: launchPos[1] }], pointRadius: 8, pointBackgroundColor: "#27ae60", pointBorderColor: "#000", pointBorderWidth: 1.5 },
      dots(toPoints(trackPoints), RED, 2.6),
      ...borderLines.map(l => ({ type: "scatter", data: toPoints(l), showLine: true, borderColor: "#d9dad8", borderWidth: 0.8, pointRadius: 0 })),
      ...lakeShapes.map(s => shape(s, "#d4e6f1", "#bfc4c4")),
      ...landShapes.map(s => shape(s, "#e8e8e4", "#bfc4c4"))
    ]
  },
  options: baseOptions(titleOpts("Flight Track", 8.7, 3), {
    x: bottomAxis({ min: -180, max: 180, ticks: [-180, -120, -60, 0, 60, 120, 180], height: 44.7, title: "Longitude (deg)",
      grid: { z: 1, color: "rgba(120,130,135,0.22)" }, border: { dash: [2, 2], z: 2 } }),
    y: valueAxis({ min: -90, max: 90, ticks: [-90, -60, -30, 0, 30, 60, 90], width: 83.3, title: "Latitude (deg)", titlePad: 22,
      grid: { z: 1, color: "rgba(120,130,135,0.22)" }, border: { dash: [2, 2], z: 2 } })
  }, 16.7),
  plugins: [oceanPlugin, framePlugin, boxLegend({ x: 90, y: 284, w: 79.3, h: 49.3, key: 14.3, text: 34.3, first: 8.3, step: 15.5 }, [
    { kind: "dot", r: 2, fill: RED, label: "Track" },
    { kind: "dot", r: 8, fill: "#27ae60", stroke: "#000", label: "Launch" },
    { kind: "image", image: starImg, label: "Last fix" }
  ])]
});

// ---- wind speed vs time ----
new Chart(document.getElementById("windChart"), {
  type: "scatter",
  data: {
    datasets: [
      meanLine(windDailyDays, windDailyMean),
      dots(expand(windRows), NAVY, 2.3),
      { type: "scatter", data: zip(bandDays, bandHigh), showLine: true, borderWidth: 0, pointRadius: 0, fill: "+1", backgroundColor: BAND },
      { type: "scatter", data: zip(bandDays, bandLow), showLine: true, borderWidth: 0, pointRadius: 0 }
    ]
  },
  options: baseOptions(titleOpts("Wind Speed vs. Time", 12.4, 3.3), {
    x: timeAxis({ min: 8.5, max: 63.1, height: 50.7 }),
    y: valueAxis({ min: 0, max: 70, ticks: [0, 10, 20, 30, 40, 50, 60, 70], width: 83.3, title: "Wind speed (m s\u207B\u00B9)", titlePad: 29 })
  }, 16.7),
  plugins: [framePlugin, boxLegend({ x: 349.3, y: 40.3, w: 160.7, h: 49.7, key: 15, text: 34.7, first: 9, step: 15.4 }, [
    { kind: "patch", fill: BAND, label: "\u00B11\u03C3 propagated error" },
    { kind: "dot", r: 1.7, fill: NAVY, label: "Wind speed" },
    { kind: "line", stroke: RED, label: "Daily mean" }
  ])]
});

// ---- latitude vs time ----
new Chart(document.getElementById("latChart"), {
  type: "scatter",
  data: { datasets: [dots(zip(latDays, latValues), "#000", 2.9)] },
  options: baseOptions(titleOpts("Latitude vs. Time", 12.4, 3.3), {
    x: timeAxis({ min: 9.38, max: 63.1, height: 50.7 }),
    y: valueAxis({ min: -90, max: 90, ticks: [-90, -60, -30, 0, 30, 60, 90], width: 75.6, title: "Latitude (deg)", titlePad: 15.7 })
  }, 27.4),
  plugins: [framePlugin]
});

// ---- altitude vs time ----
new Chart(document.getElementById("altChart"), {
  type: "scatter",
  data: { datasets: [meanLine(altDailyDays, altDailyMean), dots(expand(altRows), SLATE, 2.4)] },
  options: baseOptions(titleOpts("Balloon Altitude vs. Time", 7.5, 2.8), {
    x: timeAxis({ min: 8.5, max: 63.1, height: 65, title: "UTC date" }),
    y: valueAxis({ min: 11628, max: 16257, ticks: altTicks, width: 83.3, title: "Altitude (m AMSL)", titlePad: 8 })
  }, 16.7),
  plugins: [framePlugin]
});

// ---- U and V histogram ----
const histBar = (counts, fill) => ({
  type: "bar",
  data: zip(histBinCenters, counts),
  backgroundColor: fill,
  borderColor: "rgba(0,0,0,0.72)",
  borderWidth: 1,
  barThickness: 17.3,
  grouped: false
});
new Chart(document.getElementById("histChart"), {
  type: "bar",
  data: { datasets: [histBar(vCounts, "rgba(255,127,14,0.65)"), histBar(uCounts, "rgba(31,119,180,0.65)")] },
  options: baseOptions(titleOpts("U and V Wind Components", 7.5, 2.8), {
    x: bottomAxis({ min: -100, max: 100, ticks: [-100, -75, -50, -25, 0, 25, 50, 75, 100], height: 65, title: "Wind speed (m s\u207B\u00B9)", titlePad: 16.7 }),
    y: valueAxis({ min: 0, max: 708.75, ticks: [0, 100, 200, 300, 400, 500, 600, 700], width: 75.6, title: "Frequency", titlePad: 19.7 })
  }, 27.4),
  plugins: [framePlugin, boxLegend({ x: 643, y: 36.7, w: 120, h: 33.6, key: 16.3, text: 36, first: 8.3, step: 15.3 }, [
    { kind: "patch", fill: "rgba(31,119,180,0.65)", stroke: "rgba(0,0,0,0.72)", label: "U (zonal)" },
    { kind: "patch", fill: "rgba(255,127,14,0.65)", stroke: "rgba(0,0,0,0.72)", label: "V (meridional)" }
  ])]
});
</script>
</body>
</html>
